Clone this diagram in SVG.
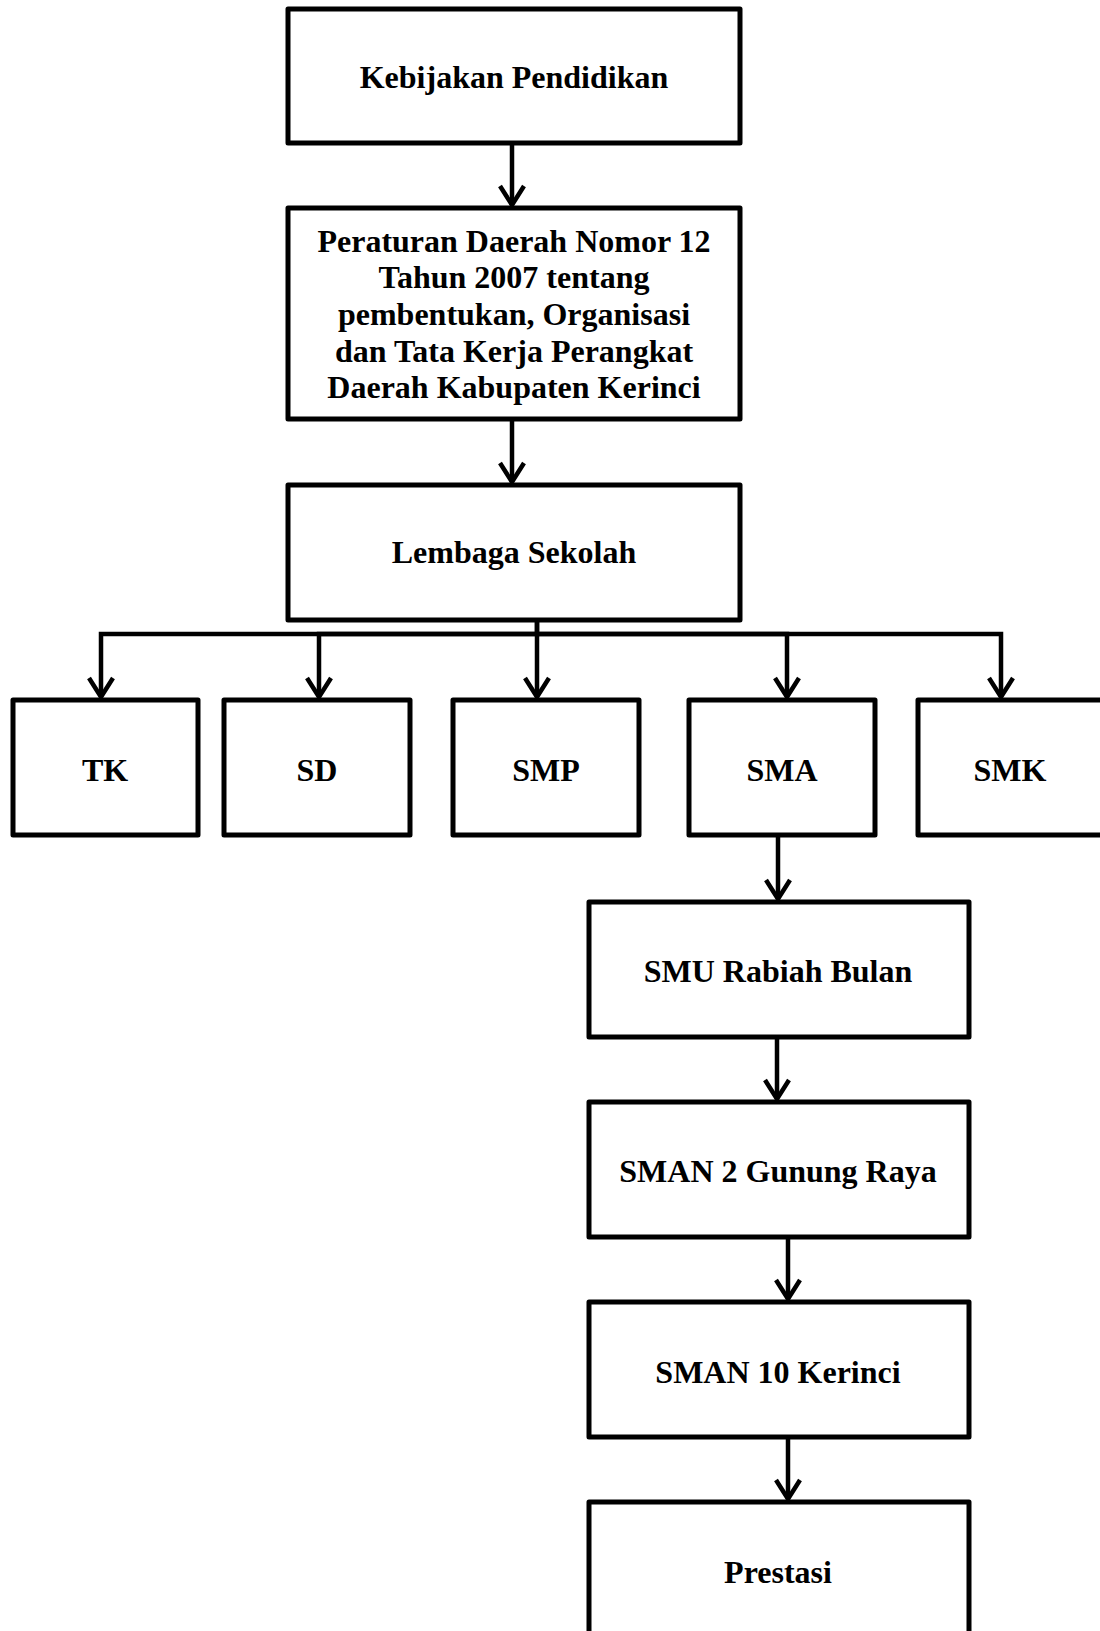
<svg xmlns="http://www.w3.org/2000/svg" width="1100" height="1631" viewBox="0 0 1100 1631">
  <style>
    .box { fill: #ffffff; stroke: #000000; stroke-width: 5; stroke-linejoin: round; }
    .lbl { font-family: "Liberation Serif", "Times New Roman", serif; font-weight: bold; font-size: 32px; fill: #000000; text-anchor: middle; }
    .con { fill: none; stroke: #000000; stroke-width: 4.5; stroke-linejoin: miter; }
  </style>
  <defs>
    <marker id="arrow" viewBox="-24 -15 28 30" markerWidth="28" markerHeight="30" refX="0" refY="0" orient="auto" markerUnits="userSpaceOnUse">
      <path d="M-19,-12 L0,0 L-19,12" fill="none" stroke="#000000" stroke-width="4.5" stroke-linejoin="miter"/>
    </marker>
  </defs>
  <rect width="1100" height="1631" fill="#ffffff"/>

  <g id="connectors">
    <path class="con" d="M512,143 V205" marker-end="url(#arrow)"/>
    <path class="con" d="M512,419 V482" marker-end="url(#arrow)"/>
    <path class="con" d="M537,620 V634 H101 V697" marker-end="url(#arrow)"/>
    <path class="con" d="M537,634 H319 V697" marker-end="url(#arrow)"/>
    <path class="con" d="M537,620 V697" marker-end="url(#arrow)"/>
    <path class="con" d="M537,634 H787 V697" marker-end="url(#arrow)"/>
    <path class="con" d="M537,634 H1001 V697" marker-end="url(#arrow)"/>
    <path class="con" d="M778,835 V899" marker-end="url(#arrow)"/>
    <path class="con" d="M777,1037 V1099" marker-end="url(#arrow)"/>
    <path class="con" d="M788,1237 V1299" marker-end="url(#arrow)"/>
    <path class="con" d="M788,1437 V1499" marker-end="url(#arrow)"/>
  </g>

  <g id="kebijakan">
    <rect class="box" x="288" y="9" width="452" height="134"/>
    <text class="lbl" x="514" y="88">Kebijakan Pendidikan</text>
  </g>

  <g id="perda">
    <rect class="box" x="288" y="208" width="452" height="211"/>
    <text class="lbl" x="514" y="252">Peraturan Daerah Nomor 12</text>
    <text class="lbl" x="514" y="288">Tahun 2007 tentang</text>
    <text class="lbl" x="514" y="325">pembentukan, Organisasi</text>
    <text class="lbl" x="514" y="362">dan Tata Kerja Perangkat</text>
    <text class="lbl" x="514" y="398">Daerah Kabupaten Kerinci</text>
  </g>

  <g id="lembaga">
    <rect class="box" x="288" y="485" width="452" height="135"/>
    <text class="lbl" x="514" y="563">Lembaga Sekolah</text>
  </g>

  <g id="tk">
    <rect class="box" x="13" y="700" width="185" height="135"/>
    <text class="lbl" x="105" y="781">TK</text>
  </g>

  <g id="sd">
    <rect class="box" x="224" y="700" width="186" height="135"/>
    <text class="lbl" x="317" y="781">SD</text>
  </g>

  <g id="smp">
    <rect class="box" x="453" y="700" width="186" height="135"/>
    <text class="lbl" x="546" y="781">SMP</text>
  </g>

  <g id="sma">
    <rect class="box" x="689" y="700" width="186" height="135"/>
    <text class="lbl" x="782" y="781">SMA</text>
  </g>

  <g id="smk">
    <rect class="box" x="918" y="700" width="186" height="135"/>
    <text class="lbl" x="1010" y="781">SMK</text>
  </g>

  <g id="smu-rabiah-bulan">
    <rect class="box" x="589" y="902" width="380" height="135"/>
    <text class="lbl" x="778" y="982">SMU Rabiah Bulan</text>
  </g>

  <g id="sman2">
    <rect class="box" x="589" y="1102" width="380" height="135"/>
    <text class="lbl" x="778" y="1182">SMAN 2 Gunung Raya</text>
  </g>

  <g id="sman10">
    <rect class="box" x="589" y="1302" width="380" height="135"/>
    <text class="lbl" x="778" y="1383">SMAN 10 Kerinci</text>
  </g>

  <g id="prestasi">
    <rect class="box" x="589" y="1502" width="380" height="140"/>
    <text class="lbl" x="778" y="1583">Prestasi</text>
  </g>
</svg>
